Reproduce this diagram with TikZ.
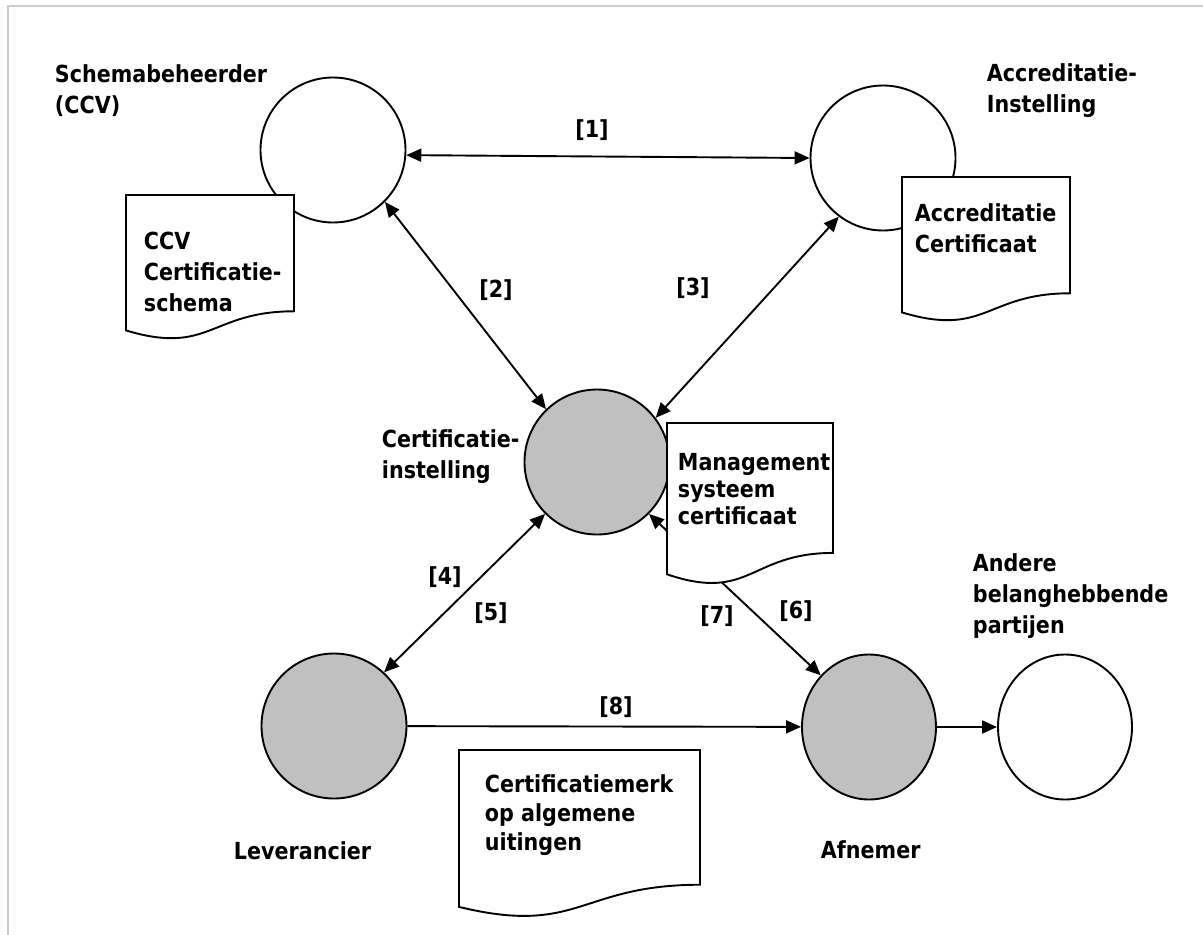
\documentclass[tikz,border=0pt]{standalone}
\usepackage{fontspec}
\setmainfont{DejaVu Sans}[FakeStretch=0.88]
\usepackage{tikz}
\usetikzlibrary{arrows.meta,shapes.geometric}
\definecolor{partygray}{RGB}{192,192,192}
\definecolor{framegray}{RGB}{204,204,204}
\tikzset{
	certification scheme/.style={
		x=1pt,y=-1pt, % pixel grid of the drawing
		line width=1.9pt,
		font=\fontsize{23.5}{31}\selectfont\bfseries,
		relation/.style={
			-{Triangle[length=15pt,width=13pt]}
		},
		mutual relation/.style={
			{Triangle[length=15pt,width=13pt]}-{Triangle[length=15pt,width=13pt]}
		},
		frame line/.style={
			draw=framegray,
			line width=2pt
		}
	},
	party/.style={
		ellipse,
		draw,
		fill=white,
		inner sep=0pt,
		minimum width=145pt,
		minimum height=145pt
	},
	certified party/.style={
		party,
		fill=partygray
	},
	narrow party/.style={
		minimum width=134pt
	},
	party name/.style={% placed at the baseline of its last line
		inner sep=0pt,
		anchor=base west,
		align=left
	},
	sheet text/.style={
		party name
	},
	flow number/.style={
		inner sep=0pt,
		anchor=center
	},
	pics/docsheet/.style args={#1/#2}{% width/height
		code={
			\draw[fill=white] (0,0) -- (#1,0) -- (#1,0.802*#2)
				.. controls (0.5*#1,0.802*#2) and (0.5*#1,1.108*#2) .. (0,0.934*#2) -- cycle;
		}
	}
}
\begin{document}
\begin{tikzpicture}[certification scheme]
		\useasboundingbox (0,0) rectangle (1203,935);
		\draw[frame line] (8,935) -- (8,6) -- (1203,6);
		% parties
		\node[party] (schema) at (333,150) {};
		\node[party] (accr) at (883,158) {};
		\node[certified party] (cinst) at (597,462) {};
		\node[certified party] (lev) at (334,726) {};
		\node[certified party,narrow party] (afn) at (869,727) {};
		\node[party,narrow party] (andere) at (1065,727) {};
		% relations
		\draw[mutual relation] (schema.-4) -- (accr.180);
		\draw[mutual relation] (schema.-45) -- (cinst.134);
		\draw[mutual relation] (cinst.37) -- (accr.233);
		\draw[mutual relation] (cinst.225) -- (lev.47);
		\draw[mutual relation] (cinst.-45) -- (afn.133);
		\draw[relation] (lev) -- (afn);
		\draw[relation] (afn) -- (andere);
		% documents
		\pic at (126,195) {docsheet=168/145};
		\pic at (902,177) {docsheet=168/145};
		\pic at (667,423) {docsheet=166/162};
		\pic at (459,750) {docsheet=241/168};
		\node[sheet text] (ccvtext) at (143,311) {CCV\\Certificatie-\\schema};
		\node[sheet text] (accrtext) at (914,252) {Accreditatie\\Certificaat};
		\node[sheet text,font=\fontsize{23.5}{27}\selectfont\bfseries] (mgmttext) at (677,524) {Management\\systeem\\certificaat};
		\node[sheet text,font=\fontsize{23.5}{29}\selectfont\bfseries] (merktext) at (484,850) {Certificatiemerk\\op algemene\\uitingen};
		% names
		\node[party name] (schemaname) at (54,113) {Schemabeheerder\\(CCV)};
		\node[party name] (accrname) at (986,112) {Accreditatie-\\Instelling};
		\node[party name] (cinstname) at (381,478) {Certificatie-\\instelling};
		\node[party name] (levname) at (233,859) {Leverancier};
		\node[party name] (afnname) at (820,858) {Afnemer};
		\node[party name] (anderename) at (972,633) {Andere\\belanghebbende\\partijen};
		% numbers
		\node[flow number] (n1) at (592,130) {[1]};
		\node[flow number] (n2) at (496,290) {[2]};
		\node[flow number] (n3) at (693,288) {[3]};
		\node[flow number] (n4) at (445,577) {[4]};
		\node[flow number] (n5) at (491,613) {[5]};
		\node[flow number] (n6) at (796,611) {[6]};
		\node[flow number] (n7) at (717,616) {[7]};
		\node[flow number] (n8) at (616,707) {[8]};
	\end{tikzpicture}
\end{document}
